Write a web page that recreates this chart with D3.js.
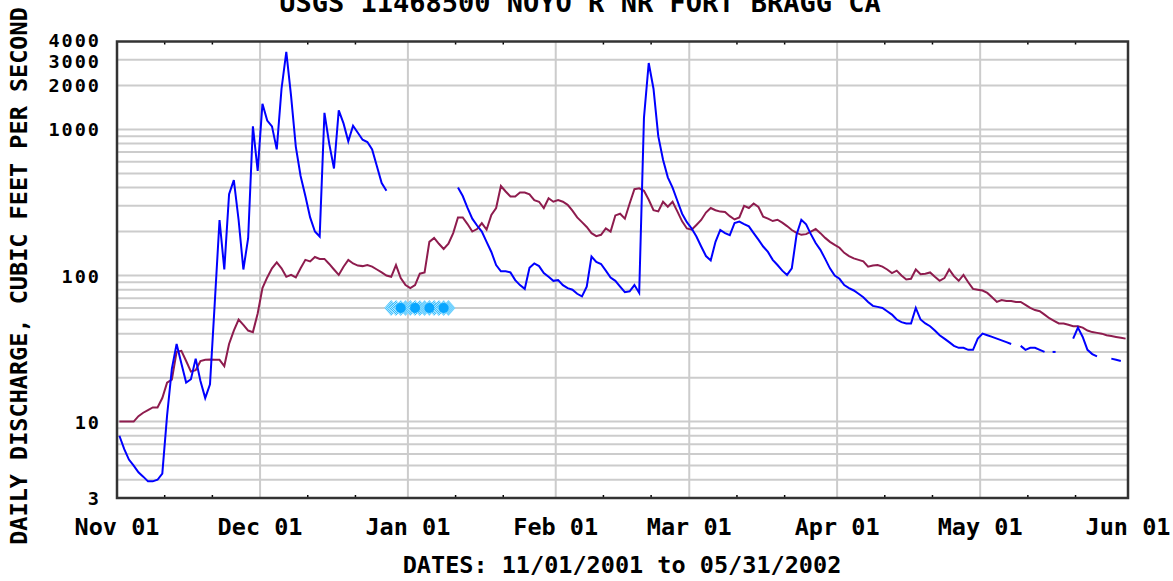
<!DOCTYPE html>
<html>
<head>
<meta charset="utf-8">
<title>USGS 11468500 NOYO R NR FORT BRAGG CA</title>
<script src="https://cdn.jsdelivr.net/npm/d3@7"></script>
<style>
    body { margin: 0; background: #fff; }
    svg text { font-family: "DejaVu Sans Mono", monospace; font-weight: bold; fill: #000; }
</style>
</head>
<body>
<script>
// daily discharge plot, nov 2001 - may 2002

//pseudo-global data
var chartTitle = "USGS 11468500 NOYO R NR FORT BRAGG CA";
var yTitle = "DAILY DISCHARGE, CUBIC FEET PER SECOND";
var xTitle = "DATES: 11/01/2001 to 05/31/2002";

var yTickLabels = [3, 10, 100, 1000, 2000, 3000, 4000];

//daily mean discharge, one value per day starting 2001-11-01 (null = no data)
var dischargeCfs = [
    8.0, 6.5, 5.5, 5.0, 4.5, 4.2, 3.9, 3.9, 4.0, 4.4,
    11, 23, 34, 25, 18.5, 19.5, 27, 19, 14.5, 18,
    65, 240, 110, 360, 450, 240, 110, 180, 1050, 520,
    1500, 1150, 1050, 730, 1900, 3400, 1700, 760, 480, 350,
    250, 200, 185, 1300, 800, 540, 1350, 1100, 830, 1060,
    950, 850, 820, 730, 560, 430, 380, null, null, null,
    null, null, null, null, null, null, null, null, null, null,
    null, 400, 350, 290, 245, 220, 200, 170, 145, 118,
    107, 107, 105, 93, 86, 81, 113, 121, 116, 104,
    98, 92, 93, 86, 82, 80, 75, 72, 84, 135,
    124, 120, 108, 97, 92, 84, 77, 78, 86, 76,
    1200, 2850, 1900, 900, 620, 470, 400, 325, 265, 232,
    210, 185, 158, 136, 127, 170, 205, 195, 189, 229,
    234, 225, 217, 195, 176, 158, 145, 128, 118, 108,
    101, 112, 190, 241, 224, 192, 167, 150, 130, 112,
    100, 95, 86, 82, 79, 75, 71, 66, 62, 61,
    60, 57, 54, 50, 48, 47, 47, 60, 50, 47,
    45, 42, 39, 37, 35, 33, 32, 32, 31, 31,
    37, 40, 39, 38, 37, 36, 35, 34, null, 33,
    31, 32, 32, 31, 30, null, 30, null, null, null,
    37, 44, 38, 31, 29, 28, null, null, 27, 26.5,
    26, null
];

//median daily statistic, same days
var medianCfs = [
    10, 10, 10, 10, 10.9, 11.5, 12, 12.5, 12.5, 14.5,
    18.5, 19.4, 30, 30.5, 26, 22, 22.5, 26, 26.5, 26.6,
    26.5, 26.5, 24, 34, 42, 50, 46, 42, 41, 55,
    82, 97, 112, 123, 112, 98, 101, 97, 112, 128,
    125, 134, 130, 130, 120, 110, 101, 115, 128, 121,
    117, 116, 118, 115, 110, 105, 100, 98, 118, 96,
    86, 82, 86, 103, 105, 170, 181, 165, 152, 165,
    195, 250, 250, 225, 200, 208, 228, 206, 260, 290,
    410, 376, 348, 348, 370, 370, 360, 328, 320, 290,
    338, 320, 328, 320, 305, 278, 250, 232, 215, 195,
    186, 190, 210, 200, 258, 265, 245, 311, 390, 395,
    380, 330, 280, 275, 320, 296, 320, 275, 235, 210,
    206, 222, 240, 270, 290, 280, 274, 272, 255, 242,
    250, 300, 290, 311, 295, 253, 245, 236, 241, 230,
    218, 205, 196, 190, 192, 200, 208, 195, 181, 170,
    162, 155, 143, 136, 131, 128, 125, 115, 117, 118,
    115, 110, 104, 108, 100, 94, 95, 110, 102, 103,
    105, 98, 92, 96, 110, 99, 92, 101, 90, 81,
    80, 79, 76, 71, 66, 68, 67, 67, 66, 66,
    63, 60, 58, 57, 54, 51, 49, 47, 47, 46,
    45, 45, 44, 42, 41, 40.5, 40, 39, 38.5, 38,
    37.5, 37
];

//days (from 2001-11-01) flagged with the light blue markers, and their level
var flaggedDays = [57, 58, 59, 60, 61, 62, 63, 64, 65, 66, 67, 68, 69];
var flaggedDots = [59, 62, 65, 68];
var flaggedCfs = 60;


window.onload = setChart();

function setChart(){
    var width = 1173,
        height = 581;

    //plot box edges
    var left = 117, right = 1128, top = 41.5, bottom = 498;

    var svg = d3.select("body")
        .append("svg")
        .attr("width", width)
        .attr("height", height);

    //dither pattern for the flagged markers
    var pat = svg.append("defs").append("pattern")
        .attr("id", "dither")
        .attr("width", 2).attr("height", 2)
        .attr("patternUnits", "userSpaceOnUse");
    pat.append("rect").attr("width", 2).attr("height", 2).attr("fill", "#c8eeff");
    pat.append("rect").attr("width", 1).attr("height", 1).attr("fill", "#22b8ff");
    pat.append("rect").attr("x", 1).attr("y", 1).attr("width", 1).attr("height", 1).attr("fill", "#22b8ff");

    var x = d3.scaleTime()
        .domain([new Date(2001, 10, 1), new Date(2002, 5, 1)])
        .range([left, right]);

    var y = d3.scaleLog()
        .domain([3, 4000])
        .range([bottom, top]);

    //daily values are plotted at noon
    function dayDate(i){
        return new Date(2001, 10, 1 + i, 12);
    };

    //horizontal grid: every 1..9 of each decade
    var gridVals = [];
    [1, 10, 100, 1000].forEach(function(dec){
        for (var k=1; k<10; k++){
            var v = k * dec;
            if (v > 3 && v < 4000) gridVals.push(v);
        };
    });

    svg.append("g").selectAll("line")
        .data(gridVals)
        .enter()
        .append("line")
        .attr("x1", left).attr("x2", right)
        .attr("y1", function(d){ return y(d); })
        .attr("y2", function(d){ return y(d); })
        .attr("stroke", "#cccccc")
        .attr("stroke-width", 2);

    //vertical grid at each month start
    var months = d3.timeMonth.range(new Date(2001, 10, 1), new Date(2002, 5, 2));

    svg.append("g").selectAll("line")
        .data(months.slice(1, -1))
        .enter()
        .append("line")
        .attr("x1", function(d){ return x(d); })
        .attr("x2", function(d){ return x(d); })
        .attr("y1", top).attr("y2", bottom)
        .attr("stroke", "#cccccc")
        .attr("stroke-width", 2);

    //small ticks on the 11th and 21st, just inside the frame
    var minorDays = [];
    months.slice(0, -1).forEach(function(m){
        minorDays.push(d3.timeDay.offset(m, 10));
        minorDays.push(d3.timeDay.offset(m, 20));
    });

    var ticks = svg.append("g");
    ticks.selectAll(".ttop")
        .data(minorDays)
        .enter()
        .append("line")
        .attr("class", "ttop")
        .attr("x1", function(d){ return x(d); })
        .attr("x2", function(d){ return x(d); })
        .attr("y1", top)
        .attr("y2", top + 3)
        .attr("stroke", "#000")
        .attr("stroke-width", 1.5);
    ticks.selectAll(".tbot")
        .data(minorDays)
        .enter()
        .append("line")
        .attr("class", "tbot")
        .attr("x1", function(d){ return x(d); })
        .attr("x2", function(d){ return x(d); })
        .attr("y1", bottom - 3)
        .attr("y2", bottom)
        .attr("stroke", "#000")
        .attr("stroke-width", 1.5);

    //flagged markers
    var flags = svg.append("g");
    flags.selectAll("path")
        .data(flaggedDays)
        .enter()
        .append("path")
        .attr("d", "M-7,0L0,-8L7,0L0,8Z")
        .attr("transform", function(d){
            return "translate(" + x(dayDate(d)) + "," + y(flaggedCfs) + ")";
        })
        .attr("fill", "url(#dither)");
    flags.selectAll("circle")
        .data(flaggedDots)
        .enter()
        .append("circle")
        .attr("cx", function(d){ return x(dayDate(d)); })
        .attr("cy", y(flaggedCfs))
        .attr("r", 5)
        .attr("fill", "#09a6ff");

    //series lines
    var line = d3.line()
        .defined(function(d){ return d != null; })
        .x(function(d, i){ return x(dayDate(i)); })
        .y(function(d){ return y(d); });

    svg.append("path")
        .datum(medianCfs)
        .attr("d", line)
        .attr("fill", "none")
        .attr("stroke", "#8e1c4e")
        .attr("stroke-width", 2);

    svg.append("path")
        .datum(dischargeCfs)
        .attr("d", line)
        .attr("fill", "none")
        .attr("stroke", "#0000ff")
        .attr("stroke-width", 2);

    //lone days with no neighbours get a short dash
    var lone = [];
    dischargeCfs.forEach(function(v, i){
        if (v != null && dischargeCfs[i-1] == null && dischargeCfs[i+1] == null) lone.push(i);
    });
    svg.selectAll(".lone")
        .data(lone)
        .enter()
        .append("rect")
        .attr("class", "lone")
        .attr("x", function(d){ return x(dayDate(d)) - 1.5; })
        .attr("y", function(d){ return y(dischargeCfs[d]) - 1; })
        .attr("width", 3).attr("height", 2)
        .attr("fill", "#0000ff");

    //plot frame
    svg.append("rect")
        .attr("x", left).attr("y", top)
        .attr("width", right - left).attr("height", bottom - top)
        .attr("fill", "none")
        .attr("stroke", "#333")
        .attr("stroke-width", 2.5);

    //y labels (the top pair sits tight, so spread them a little)
    var nudge = {4000: -1.5, 3000: 1};
    svg.append("g").selectAll("text")
        .data(yTickLabels)
        .enter()
        .append("text")
        .attr("x", 101)
        .attr("y", function(d){ return y(d) + 7 + (nudge[d] || 0); })
        .attr("text-anchor", "end")
        .style("font-size", "18.5px")
        .style("letter-spacing", "2px")
        .text(function(d){ return d; });

    //month labels
    svg.append("g").selectAll("text")
        .data(months)
        .enter()
        .append("text")
        .attr("x", function(d){ return x(d); })
        .attr("y", 535)
        .attr("text-anchor", "middle")
        .style("font-size", "23.5px")
        .text(d3.timeFormat("%b %d"));

    //titles
    svg.append("text")
        .attr("x", 580).attr("y", 12)
        .attr("text-anchor", "middle")
        .style("font-size", "27px")
        .text(chartTitle);

    svg.append("text")
        .attr("x", 622).attr("y", 573)
        .attr("text-anchor", "middle")
        .style("font-size", "23.5px")
        .text(xTitle);

    svg.append("text")
        .attr("transform", "translate(27,276) rotate(-90)")
        .attr("text-anchor", "middle")
        .style("font-size", "23.5px")
        .text(yTitle);
};
</script>
</body>
</html>
